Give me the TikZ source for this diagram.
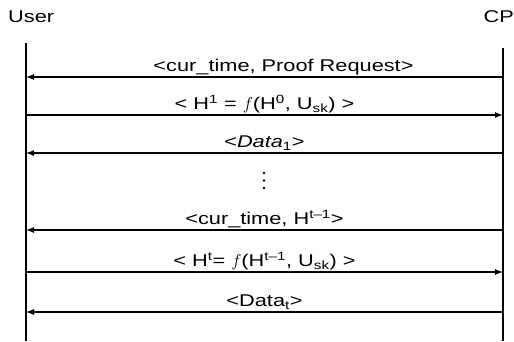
\documentclass[tikz,border=0pt]{standalone}
\usepackage{fontspec}
\setmainfont[FakeStretch=1.28]{Liberation Sans}
\usetikzlibrary{arrows.meta}

\begin{document}
\begin{tikzpicture}[x=1pt, y=-1pt,
    lifeline/.style={line width=1.4pt},
    msg/.style={line width=1.1pt, -{Latex[length=8pt, width=6pt]}},
    lbl/.style={anchor=base, inner sep=0pt, font=\fontsize{17}{19}\selectfont}]
  \useasboundingbox (0,0) rectangle (514,341);
  % actors
  \node[lbl, anchor=base west] (user) at (8,22) {User};
  \node[lbl, anchor=base east] (cp) at (514,22) {CP};
  % lifelines
  \coordinate (utop) at (26,43);
  \coordinate (ubot) at (26,341);
  \coordinate (ctop) at (503,48);
  \coordinate (cbot) at (503,341);
  \draw[lifeline] (utop) -- (ubot);
  \draw[lifeline] (ctop) -- (cbot);
  % message ends
  \coordinate (u1) at (26,77);  \coordinate (c1) at (503,77);
  \coordinate (u2) at (26,115); \coordinate (c2) at (503,115);
  \coordinate (u3) at (26,153); \coordinate (c3) at (503,153);
  \coordinate (u4) at (26,230); \coordinate (c4) at (503,230);
  \coordinate (u5) at (26,272); \coordinate (c5) at (503,272);
  \coordinate (u6) at (26,312); \coordinate (c6) at (503,312);
  % messages
  \draw[msg] (c1) -- (u1) node[lbl, midway, xshift=19pt, yshift=5.5pt] (m1)
    {<cur\_time, Proof Request>};
  \draw[msg] (u2) -- (c2) node[lbl, midway, yshift=5.5pt] (m2)
    {< H\textsuperscript{1} = $f$(H\textsuperscript{0}, U\textsubscript{sk}) >};
  \draw[msg] (c3) -- (u3) node[lbl, midway, yshift=5.5pt] (m3)
    {<\textit{Data}\textsubscript{1}>};
  % skipped rounds
  \fill (264,173) circle (1.4);
  \fill (264,180.5) circle (1.4);
  \fill (264,188) circle (1.4);
  \draw[msg] (c4) -- (u4) node[lbl, midway, yshift=5.5pt] (m4)
    {<cur\_time, H\textsuperscript{t\textendash1}>};
  \draw[msg] (u5) -- (c5) node[lbl, midway, yshift=5.5pt] (m5)
    {< H\textsuperscript{t}= $f$(H\textsuperscript{t\textendash1}, U\textsubscript{sk}) >};
  \draw[msg] (c6) -- (u6) node[lbl, midway, yshift=5.5pt] (m6)
    {<Data\textsubscript{t}>};
\end{tikzpicture}
\end{document}
